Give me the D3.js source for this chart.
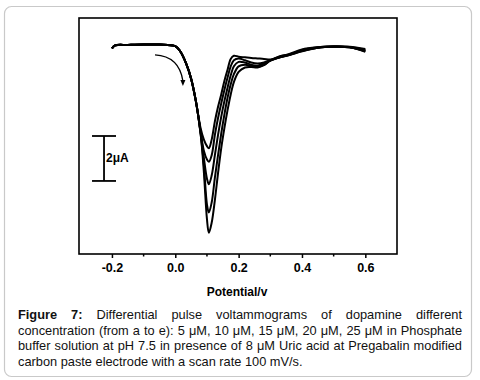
<!DOCTYPE html>
<html>
<head>
<meta charset="utf-8">
<script src="https://cdn.jsdelivr.net/npm/d3@7"></script>
<style>
  body { margin: 0; background: #fff; }
  svg { display: block; font-family: "Liberation Sans", Arial, sans-serif; }
</style>
</head>
<body>
<div id="chart"></div>
<script>
// potential (V) shared by all five scans
var potential = [-0.2, -0.19, -0.15, -0.1, -0.05, 0.0, 0.015, 0.035, 0.05, 0.065,
    0.08, 0.09, 0.1, 0.106, 0.115, 0.125, 0.135, 0.145, 0.155, 0.165, 0.175, 0.185,
    0.2, 0.22, 0.24, 0.26, 0.28, 0.3, 0.33, 0.36, 0.4, 0.45, 0.5, 0.55, 0.6];

// current (uA), curves a..e
var curveA = [-0.15, -0.02, 0.0, 0.02, 0.02, -0.05, -0.27, -0.85, -1.5, -2.5,
    -3.7, -4.2, -4.5, -4.6, -4.2, -3.4, -2.75, -2.2, -1.6, -1.1, -0.62, -0.48,
    -0.52, -0.55, -0.58, -0.6, -0.62, -0.65, -0.52, -0.4, -0.2, -0.1, -0.06, -0.08, -0.18];
var curveB = [-0.15, -0.02, 0.0, 0.02, 0.02, -0.05, -0.27, -0.85, -1.5, -2.5,
    -3.85, -4.7, -5.1, -5.2, -4.9, -4.0, -3.25, -2.6, -2.0, -1.45, -0.95, -0.68,
    -0.6, -0.68, -0.78, -0.82, -0.78, -0.68, -0.5, -0.42, -0.22, -0.1, -0.07, -0.09, -0.22];
var curveC = [-0.15, -0.02, 0.0, 0.02, 0.02, -0.05, -0.27, -0.85, -1.5, -2.5,
    -3.9, -5.0, -5.95, -6.2, -5.8, -4.9, -4.0, -3.2, -2.5, -1.9, -1.35, -0.95,
    -0.75, -0.78, -0.88, -0.92, -0.82, -0.68, -0.55, -0.43, -0.25, -0.12, -0.08, -0.1, -0.26];
var curveD = [-0.15, -0.02, 0.0, 0.02, 0.02, -0.05, -0.27, -0.85, -1.5, -2.5,
    -3.95, -5.3, -7.1, -7.45, -7.0, -5.9, -4.9, -3.95, -3.1, -2.35, -1.75, -1.3,
    -0.95, -0.88, -0.93, -0.98, -0.88, -0.7, -0.55, -0.45, -0.27, -0.12, -0.08, -0.1, -0.28];
var curveE = [-0.15, -0.02, 0.0, 0.02, 0.02, -0.05, -0.27, -0.85, -1.5, -2.5,
    -3.95, -5.6, -7.75, -8.36, -7.9, -6.9, -5.7, -4.6, -3.7, -2.9, -2.2, -1.65,
    -1.2, -1.0, -0.98, -1.0, -0.9, -0.7, -0.55, -0.45, -0.28, -0.12, -0.08, -0.1, -0.3];

var xTicks = [-0.2, 0.0, 0.2, 0.4, 0.6];
var xMinorTicks = [-0.1, 0.1, 0.3, 0.5];

// 2 uA scale bar and scan direction arrow (data units)
var scaleBar = { x: -0.225, top: -4.05, size: 2, label: "2\u03bcA" };
var arrowPts = [[-0.064, -0.44], [0.012, -0.5], [0.024, -1.82]];

var captionLines = [
    "Differential pulse voltammograms of dopamine different",
    "concentration (from a to e): 5 \u03bcM, 10 \u03bcM, 15 \u03bcM, 20 \u03bcM, 25 \u03bcM in  Phosphate",
    "buffer solution at pH 7.5 in presence of  8 \u03bcM Uric acid at Pregabalin modified",
    "carbon paste electrode with a scan rate 100 mV/s."
];

function init() {
    var width = 480, height = 380;
    var left = 79, right = 397, top = 18, bottom = 254;

    var svg = d3.select("#chart").append("svg")
        .attr("width", width)
        .attr("height", height);

    // outer rounded box
    svg.append("rect")
        .attr("x", 4.5).attr("y", 6.5)
        .attr("width", 467).attr("height", 370)
        .attr("rx", 7)
        .style("fill", "#fff")
        .style("stroke", "#c9c9c9")
        .style("stroke-width", 1.2);

    var x = d3.scaleLinear().domain([-0.304, 0.7]).range([left, right]);
    var y = d3.scaleLinear().domain([-9.3, 1.2]).range([bottom, top]);

    // axis with major and minor ticks
    var xAxis = d3.axisBottom(x).tickValues(xTicks).tickSize(4).tickFormat(d3.format(".1f"));
    var gx = svg.append("g").attr("transform", "translate(0," + bottom + ")").call(xAxis);
    gx.select(".domain").remove();
    gx.selectAll(".tick line").style("stroke", "#000").style("stroke-width", 1.5);
    gx.selectAll(".tick text")
        .attr("y", 9)
        .style("font-family", "'Liberation Sans', Arial, sans-serif")
        .style("font-size", "12.5px")
        .style("font-weight", "bold")
        .style("fill", "#000")
        .text(d => d3.format(".1f")(d).replace("\u2212", "-"));

    svg.append("g").selectAll("line")
        .data(xMinorTicks).enter().append("line")
        .attr("x1", d => x(d)).attr("x2", d => x(d))
        .attr("y1", bottom).attr("y2", bottom + 2.5)
        .style("stroke", "#000").style("stroke-width", 1.5);

    // frame
    svg.append("rect")
        .attr("x", left).attr("y", top)
        .attr("width", right - left).attr("height", bottom - top)
        .style("fill", "none")
        .style("stroke", "#000")
        .style("stroke-width", 1.6);

    svg.append("text")
        .attr("x", (left + right) / 2 - 1)
        .attr("y", 296)
        .attr("text-anchor", "middle")
        .style("font-size", "12px")
        .style("font-weight", "bold")
        .text("Potential/v");

    // curves
    var curves = [curveA, curveB, curveC, curveD, curveE];
    var line = d3.line()
        .x((d, i) => x(potential[i]))
        .y(d => y(d))
        .curve(d3.curveCatmullRom.alpha(0.5));

    svg.append("g").selectAll("path")
        .data(curves).enter().append("path")
        .attr("d", line)
        .style("fill", "none")
        .style("stroke", "#000")
        .style("stroke-width", 2)
        .style("stroke-linejoin", "round");

    // scale bar
    var sb = svg.append("g");
    var sx = x(scaleBar.x);
    sb.append("line")
        .attr("x1", sx).attr("x2", sx)
        .attr("y1", y(scaleBar.top)).attr("y2", y(scaleBar.top - scaleBar.size));
    [scaleBar.top, scaleBar.top - scaleBar.size].forEach(function(v) {
        sb.append("line")
            .attr("x1", sx - 12).attr("x2", sx + 12)
            .attr("y1", y(v)).attr("y2", y(v));
    });
    sb.selectAll("line").style("stroke", "#000").style("stroke-width", 1.8);
    sb.append("text")
        .attr("x", sx + 2)
        .attr("y", y(scaleBar.top - scaleBar.size / 2) + 4)
        .style("font-size", "12px")
        .style("font-weight", "bold")
        .text(scaleBar.label);

    // arrow
    var p0 = arrowPts[0], p1 = arrowPts[1], p2 = arrowPts[2];
    svg.append("path")
        .attr("d", "M" + x(p0[0]) + "," + y(p0[1]) +
            " Q" + x(p1[0]) + "," + y(p1[1]) + " " + x(p2[0]) + "," + (y(p2[1]) - 5))
        .style("fill", "none")
        .style("stroke", "#000")
        .style("stroke-width", 1.3);
    var ax = x(p2[0]), ay = y(p2[1]);
    svg.append("path")
        .attr("d", "M" + (ax - 2.5) + "," + (ay - 6) + " L" + (ax + 2.5) + "," + (ay - 6) + " L" + ax + "," + ay + "Z")
        .style("fill", "#000");

    // caption, justified like the journal layout
    var capLeft = 18, capWidth = 444;
    var baselines = [319, 334.5, 350, 365.5];
    captionLines.forEach(function(txt, i) {
        var t = svg.append("text")
            .attr("x", capLeft)
            .attr("y", baselines[i])
            .style("font-size", "12.8px")
            .style("fill", "#111");
        if (i == 0) {
            t.append("tspan").style("font-weight", "bold").text("Figure 7:");
            t.append("tspan").text(" " + txt);
        } else {
            t.text(txt);
        }
        if (i < captionLines.length - 1) {
            var full = (i == 0 ? "Figure 7: " + txt : txt).replace(/\s+/g, " ");
            var gaps = full.split(" ").length - 1;
            var len = t.node().getComputedTextLength();
            t.style("word-spacing", ((capWidth - len) / gaps) + "px");
        }
    });
}

init();
</script>
</body>
</html>
